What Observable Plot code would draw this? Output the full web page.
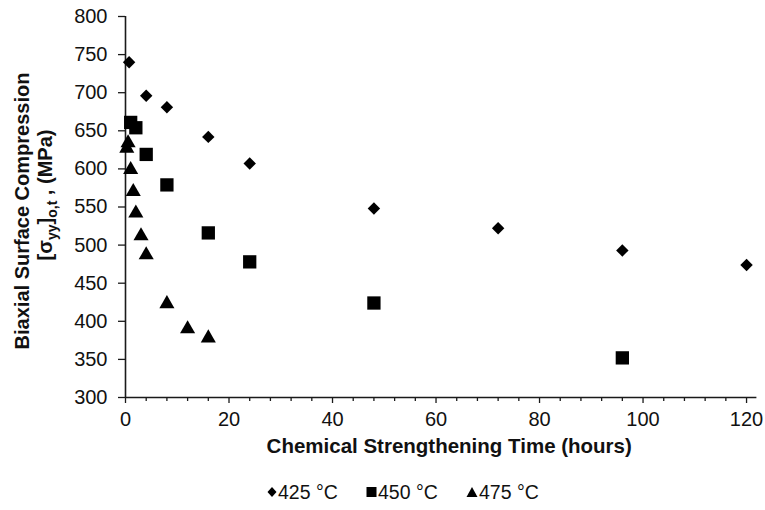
<!DOCTYPE html>
<html>
<head>
<meta charset="utf-8">
<script src="https://cdn.jsdelivr.net/npm/d3@7"></script>
<script src="https://cdn.jsdelivr.net/npm/@observablehq/plot@0.6"></script>
<style>
  body { margin: 0; background: #fff; font-family: "Liberation Sans", Arial, sans-serif; }
  #wrap { position: relative; width: 765px; height: 510px; }
  #legend { position: absolute; left: 0; top: 470px; width: 765px; height: 40px; font-size: 19.5px; color: #111; }
  .item { position: absolute; top: 10px; display: flex; align-items: center; line-height: 24px; }
  .item svg { margin-right: 1px; }
</style>
</head>
<body>
<div id="wrap"><div id="chart"></div><div id="legend"></div></div>
<script>
// Data
const time425 = [0.7, 4, 8, 16, 24, 48, 72, 96, 120];
const stress425 = [740, 696, 681, 642, 607, 548, 522, 493, 474];

const time450 = [1, 2, 4, 8, 16, 24, 48, 96];
const stress450 = [661, 654, 619, 579, 516, 478, 424, 352];

const time475 = [0.5, 0.25, 1, 1.5, 2, 3, 4, 8, 12, 16];
const stress475 = [634, 627, 599, 570, 542, 512, 487, 423, 390, 378];

const seriesLabels = ["425 °C", "450 °C", "475 °C"];
const xMajorTicks = [0, 20, 40, 60, 80, 100, 120];
const xMinorTicks = [4, 8, 12, 16, 24, 28, 32, 36, 44, 48, 52, 56, 64, 68, 72, 76, 84, 88, 92, 96, 104, 108, 112, 116];
const yTicks = [300, 350, 400, 450, 500, 550, 600, 650, 700, 750, 800];
const xTitle = "Chemical Strengthening Time (hours)";

const toRows = (times, values, label) => times.map((t, i) => ({ series: label, time: t, stress: values[i] }));
const d425 = toRows(time425, stress425, seriesLabels[0]);
const d450 = toRows(time450, stress450, seriesLabels[1]);
const d475 = toRows(time475, stress475, seriesLabels[2]);

const axisColor = "#1a1a1a";
const chart = Plot.plot({
  width: 765,
  height: 470,
  marginLeft: 125,
  marginRight: 8.6,
  marginTop: 16,
  marginBottom: 73,
  style: { fontFamily: '"Liberation Sans", Arial, sans-serif', color: "#111", background: "#fff" },
  x: { domain: [0, 122] },
  y: { domain: [300, 800] },
  marks: [
    Plot.axisY({ ticks: yTicks, tickSize: 7, tickPadding: 11, fontSize: 20, label: null, stroke: axisColor, strokeWidth: 1.3 }),
    Plot.axisX({ ticks: xMajorTicks, tickSize: 6, tickPadding: 8, fontSize: 20, label: null, stroke: axisColor, strokeWidth: 1.3 }),
    Plot.axisX({ ticks: xMinorTicks, tickSize: 4, tickFormat: () => "", label: null, stroke: axisColor, strokeWidth: 1.3 }),
    Plot.ruleX([0], { stroke: axisColor, strokeWidth: 1.6 }),
    Plot.ruleY([300], { stroke: axisColor, strokeWidth: 1.6 }),
    Plot.dot(d425, { x: "time", y: "stress", symbol: "diamond2", r: 5.6, fill: "#000", stroke: "none" }),
    Plot.dot(d450, { x: "time", y: "stress", symbol: "square", r: 7.5, fill: "#000", stroke: "none" }),
    Plot.dot(d475, { x: "time", y: "stress", symbol: "triangle", r: 5.6, fill: "#000", stroke: "none" }),
    Plot.text([xTitle], { frameAnchor: "bottom", dx: 8, dy: 55, fontSize: 20.5, fontWeight: "bold", fill: "#111" })
  ]
});
document.getElementById("chart").appendChild(chart);

// Y-axis title (two lines, with subscripts)
const svg = d3.select(chart);
const yt = svg.append("g")
  .attr("font-family", '"Liberation Sans", Arial, sans-serif')
  .attr("font-weight", "bold")
  .attr("fill", "#111")
  .attr("text-anchor", "middle");
yt.append("text")
  .attr("transform", "translate(22,211) rotate(-90)")
  .attr("dy", "0.35em")
  .attr("font-size", 20)
  .text("Biaxial Surface Compression");
const l2 = yt.append("text")
  .attr("transform", "translate(45,195) rotate(-90)")
  .attr("dy", "0.35em")
  .attr("font-size", 20);
l2.append("tspan").text("[σ");
l2.append("tspan").attr("font-size", 14).attr("dy", 5).text("yy");
l2.append("tspan").attr("dy", -5).text("]");
l2.append("tspan").attr("font-size", 14).attr("dy", 5).text("o,t");
l2.append("tspan").attr("dy", -5).text(" , (MPa)");

// Legend (below the SVG)
const legendSymbols = [
  '<svg width="10" height="12"><path d="M5,1L9.5,6L5,11L0.5,6Z" fill="#000"/></svg>',
  '<svg width="11" height="12"><rect x="0.5" y="1" width="10" height="10" fill="#000"/></svg>',
  '<svg width="12" height="12"><path d="M6,1L11.5,11L0.5,11Z" fill="#000"/></svg>'
];
const legendLefts = [267, 366, 466];
const legend = document.getElementById("legend");
seriesLabels.forEach((lab, i) => {
  const el = document.createElement("div");
  el.className = "item";
  el.style.left = legendLefts[i] + "px";
  el.innerHTML = legendSymbols[i] + "<span>" + lab + "</span>";
  legend.appendChild(el);
});
</script>
</body>
</html>
